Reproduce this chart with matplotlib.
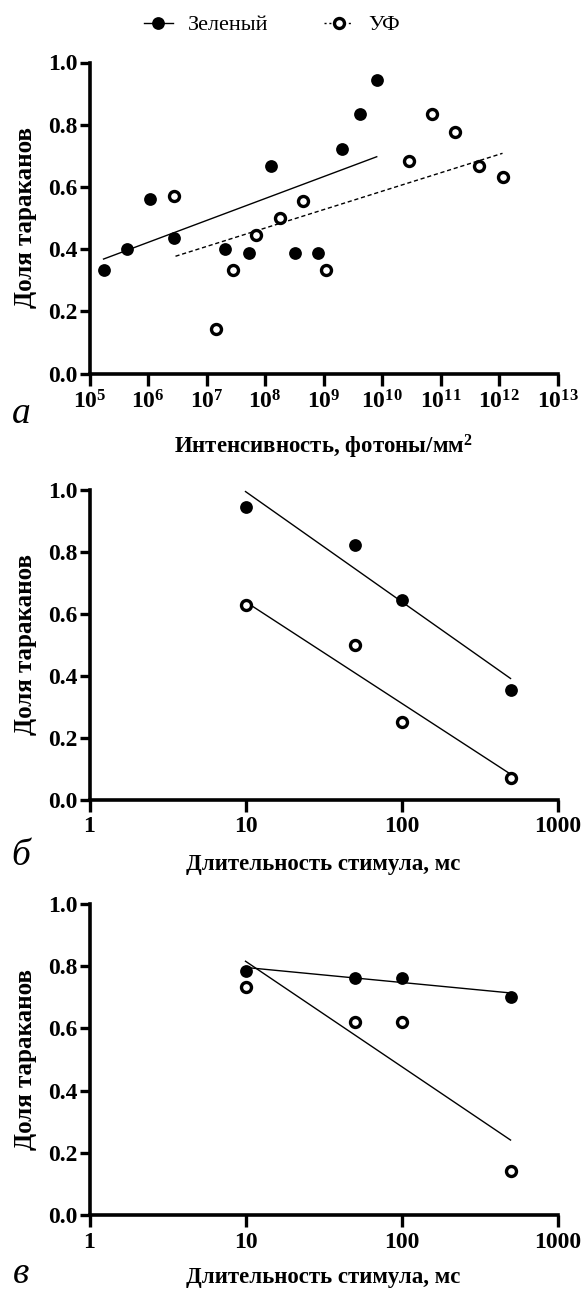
import numpy as np
import matplotlib.pyplot as plt
from matplotlib.lines import Line2D

plt.rcParams['font.family'] = ['Liberation Serif', 'DejaVu Serif']
plt.rcParams['mathtext.fontset'] = 'custom'
plt.rcParams['mathtext.rm'] = 'Liberation Serif:bold'
plt.rcParams['mathtext.bf'] = 'Liberation Serif:bold'
plt.rcParams['mathtext.it'] = 'Liberation Serif:bold'

# Панель а: интенсивность (фотоны/мм^2), доля тараканов
int_green = [10**5.24, 10**5.64, 10**6.03, 10**6.44, 10**7.32, 10**7.72,
             10**8.11, 10**8.51, 10**8.91, 10**9.31, 10**9.62, 10**9.92]
y_green_a = [0.333, 0.40, 0.562, 0.437, 0.40, 0.389,
             0.667, 0.389, 0.389, 0.722, 0.833, 0.944]
int_uv = [10**6.44, 10**7.16, 10**7.46, 10**7.85, 10**8.25, 10**8.65,
          10**9.05, 10**10.46, 10**10.85, 10**11.25, 10**11.65, 10**12.06]
y_uv_a = [0.571, 0.143, 0.333, 0.444, 0.50, 0.556,
          0.333, 0.684, 0.833, 0.778, 0.667, 0.632]
fit_green_a_x = [10**5.24, 10**9.91]
fit_green_a_y = [0.368, 0.697]
fit_uv_a_x = [10**6.47, 10**12.06]
fit_uv_a_y = [0.377, 0.708]
int_ticks = [10.0**k for k in range(5, 14)]
int_ticklabels = [r'$\mathbf{10^{%d}}$' % k for k in range(5, 14)]

# Панели б и в: длительность стимула (мс)
dur = [10, 50, 100, 500]
dur_ticks = [1, 10, 100, 1000]
dur_ticklabels = ['1', '10', '100', '1000']
y_green_b = [0.944, 0.821, 0.645, 0.353]
y_uv_b = [0.630, 0.50, 0.25, 0.071]
fit_b_x = [10, 500]
fit_green_b_y = [0.995, 0.391]
fit_uv_b_y = [0.639, 0.082]

y_green_c = [0.786, 0.763, 0.763, 0.702]
y_uv_c = [0.733, 0.620, 0.620, 0.140]
fit_green_c_y = [0.796, 0.714]
fit_uv_c_y = [0.816, 0.241]

fig = plt.figure(figsize=(5.83, 12.93), dpi=100)
W, H = 583, 1293

def make_ax(top, bottom):
    left, right = 89.5, 557.5
    return fig.add_axes([left / W, 1 - bottom / H, (right - left) / W, (bottom - top) / H])

ax_a = make_ax(62.5, 373.5)
ax_b = make_ax(490, 799.5)
ax_c = make_ax(904, 1215)

filled = dict(marker='o', ms=9.2, color='black', mew=0, ls='none', zorder=3)
hollow = dict(marker='o', ms=7.2, mfc='white', mec='black', mew=2.4, ls='none', zorder=3)

def style(ax, xlim, ticks, ticklabels, xlabel, xlabel_y):
    ax.set_xscale('log')
    ax.set_xlim(*xlim)
    ax.set_xticks(ticks)
    ax.set_xticklabels(ticklabels)
    ax.minorticks_off()
    ax.set_ylim(0, 1.0)
    yt = np.arange(0, 1.01, 0.2)
    ax.set_yticks(yt)
    ax.set_yticklabels([f'{v:.1f}' for v in yt])
    for s in ['top', 'right']:
        ax.spines[s].set_visible(False)
    for s in ['left', 'bottom']:
        ax.spines[s].set_linewidth(2.6)
    ax.tick_params(axis='x', which='major', width=2.4, length=8.5, labelsize=17, pad=3.5)
    ax.tick_params(axis='y', which='major', width=2.4, length=7, labelsize=17, pad=1.5)
    for lab in ax.get_xticklabels() + ax.get_yticklabels():
        lab.set_fontweight('bold')
    ax.set_ylabel('Доля тараканов', fontsize=18, fontweight='bold')
    ax.yaxis.set_label_coords(-0.113, 0.5)
    ax.set_xlabel(xlabel, fontsize=16.5, fontweight='bold')
    ax.xaxis.set_label_coords(0.5, xlabel_y)

# а
ax_a.plot(fit_green_a_x, fit_green_a_y, color='black', lw=1.0)
ax_a.plot(fit_uv_a_x, fit_uv_a_y, color='black', lw=1.0, ls=(0, (3, 2)))
ax_a.plot(int_green, y_green_a, **filled)
ax_a.plot(int_uv, y_uv_a, **hollow)
style(ax_a, (1e5, 1e13), int_ticks, int_ticklabels,
      'Интенсивность, фотоны/мм$^{2}$', -0.19)

# б
ax_b.plot(fit_b_x, fit_green_b_y, color='black', lw=1.0)
ax_b.plot(fit_b_x, fit_uv_b_y, color='black', lw=1.0)
ax_b.plot(dur, y_green_b, **filled)
ax_b.plot(dur, y_uv_b, **hollow)
style(ax_b, (1, 1000), dur_ticks, dur_ticklabels, 'Длительность стимула, мс', -0.175)

# в
ax_c.plot(fit_b_x, fit_green_c_y, color='black', lw=1.0)
ax_c.plot(fit_b_x, fit_uv_c_y, color='black', lw=1.0)
ax_c.plot(dur, y_green_c, **filled)
ax_c.plot(dur, y_uv_c, **hollow)
style(ax_c, (1, 1000), dur_ticks, dur_ticklabels, 'Длительность стимула, мс', -0.168)

# подписи панелей
for lab, y in [('а', 423), ('б', 865), ('в', 1283)]:
    fig.text(21 / W, 1 - y / H, lab, fontsize=27, fontstyle='italic',
             ha='center', va='baseline')

# легенда
h_green = Line2D([], [], color='black', lw=1.0, marker='o', ms=9.2, mew=0)
h_uv = Line2D([], [], color='black', lw=1.0, ls=(0, (1.5, 2)), marker='o',
              ms=7.2, mfc='white', mec='black', mew=2.4)
fig.legend([h_green, h_uv], ['Зеленый', 'УФ'], loc='center',
           bbox_to_anchor=(272 / W, 1 - 25 / H), ncol=2, frameon=False,
           fontsize=16, handlelength=1.3, columnspacing=2.5, handletextpad=0.7)

fig.savefig('out.png', dpi=100)
